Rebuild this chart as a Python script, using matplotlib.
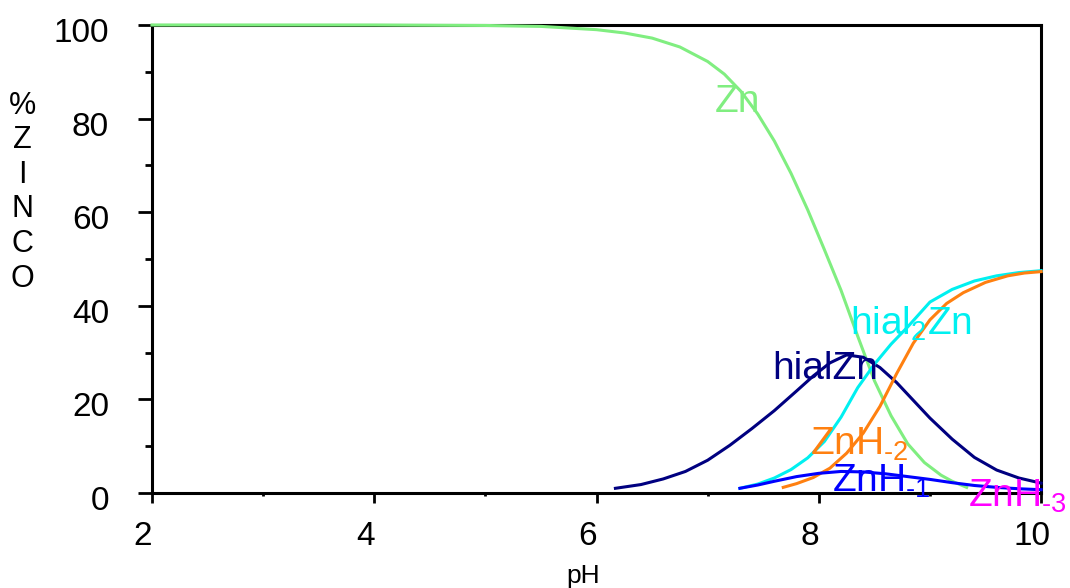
import matplotlib.pyplot as plt
import matplotlib.transforms as mtransforms

plt.rcParams['font.family'] = ['Liberation Sans', 'DejaVu Sans']
plt.rcParams['mathtext.fontset'] = 'custom'
plt.rcParams['mathtext.rm'] = 'Liberation Sans'
plt.rcParams['mathtext.it'] = 'Liberation Sans'

# species distribution (pH, % zinc)
zn_ph = [2, 4, 5, 5.5, 6, 6.25, 6.5, 6.75, 7, 7.15, 7.3, 7.45, 7.6, 7.75, 7.9, 8.05,
         8.2, 8.35, 8.5, 8.65, 8.8, 8.95, 9.1, 9.2, 9.33]
zn_pct = [100, 100, 99.9, 99.7, 99.0, 98.3, 97.2, 95.3, 92.2, 89.5, 85.8, 81, 75.2, 68.3,
          60.5, 52, 43.3, 33.5, 24, 16.5, 10.5, 6.5, 3.8, 2.5, 1.2]

hialzn_ph = [6.17, 6.4, 6.6, 6.8, 7, 7.2, 7.4, 7.6, 7.8, 7.95, 8.1, 8.25, 8.4, 8.55, 8.7,
             8.85, 9, 9.2, 9.4, 9.6, 9.8, 10]
hialzn_pct = [1, 1.8, 3, 4.6, 7, 10.2, 13.8, 17.6, 21.8, 25, 27.8, 29.5, 29, 26.8, 23.6,
              19.8, 16, 11.5, 7.6, 4.9, 3.2, 2.1]

hial2zn_ph = [7.29, 7.45, 7.6, 7.75, 7.9, 8.05, 8.2, 8.35, 8.5, 8.65, 8.8, 9, 9.2, 9.4,
              9.6, 9.8, 10]
hial2zn_pct = [1, 1.9, 3.2, 5, 7.5, 11, 16.2, 22.5, 27.5, 31.8, 35.5, 40.8, 43.5, 45.3,
               46.4, 47.1, 47.5]

znh2_ph = [7.68, 7.8, 7.95, 8.1, 8.25, 8.4, 8.55, 8.7, 8.85, 9, 9.15, 9.3, 9.5, 9.7,
           9.85, 10]
znh2_pct = [1.2, 2, 3.3, 5.3, 8.5, 12.8, 18.5, 25.5, 32, 37, 40.5, 42.8, 45, 46.4, 47,
            47.3]

znh1_ph = [7.29, 7.45, 7.6, 7.8, 8, 8.2, 8.4, 8.6, 8.8, 9, 9.2, 9.4, 9.6, 9.8, 10]
znh1_pct = [1, 1.7, 2.5, 3.5, 4.2, 4.6, 4.5, 4.1, 3.5, 2.9, 2.2, 1.6, 1.2, 0.9, 0.7]

series = [
    (zn_ph, zn_pct, '#80ee80'),
    (hialzn_ph, hialzn_pct, '#000080'),
    (hial2zn_ph, hial2zn_pct, '#00f0f0'),
    (znh2_ph, znh2_pct, '#ff8010'),
    (znh1_ph, znh1_pct, '#0000ff'),
]

fig = plt.figure(figsize=(10.7, 5.88), dpi=100)
ax = fig.add_axes([0.142, 0.1616, 0.831, 0.7959])

for x, y, c in series:
    # drawn over the frame, like the original (Zn runs along the top edge)
    ax.plot(x, y, color=c, lw=2.2, zorder=3, clip_on=False)

# curve labels
lab = dict(fontsize=28, zorder=4)
ax.text(7.27, 83.5, 'Zn', color='#80ee80', ha='center', va='center', **lab)
ax.text(8.06, 26.5, 'hialZn', color='#000080', ha='center', va='center', **lab)
ax.text(8.28, 33.8, 'hial$_2$Zn', color='#00f0f0', ha='left', va='baseline', **lab)
ax.text(7.92, 8.1, 'ZnH$_{‐2}$', color='#ff8010', ha='left', va='baseline', **lab)
ax.text(8.12, 0.2, 'ZnH$_{‐1}$', color='#0000ff', ha='left', va='baseline', **lab)
ax.text(9.34, -3, 'ZnH$_{‐3}$', color='#ff00ff', ha='left', va='baseline',
        clip_on=False, **lab)

ax.set_xlim(2, 10)
ax.set_ylim(0, 100)
ax.set_xticks([2, 4, 6, 8, 10])
ax.set_xticks([3, 5, 7, 9], minor=True)
ax.set_yticks([0, 20, 40, 60, 80, 100])
ax.set_yticks([10, 30, 50, 70, 90], minor=True)

for s in ax.spines.values():
    s.set_linewidth(2.2)

ax.tick_params(axis='y', which='major', length=10, width=2, pad=21, labelsize=24)
ax.tick_params(axis='y', which='minor', length=5, width=2)
ax.tick_params(axis='x', which='major', length=7, width=2, pad=13, labelsize=24)
ax.tick_params(axis='x', which='minor', length=2, width=2)

# tick labels sit a little left / low of their ticks in the original
dx = mtransforms.ScaledTranslation(-0.09, 0, fig.dpi_scale_trans)
dy = mtransforms.ScaledTranslation(0, -0.05, fig.dpi_scale_trans)
for t in ax.get_xticklabels():
    t.set_transform(t.get_transform() + dx)
for t in ax.get_yticklabels():
    t.set_transform(t.get_transform() + dy)

ax.set_xlabel('pH', fontsize=19)
ax.xaxis.set_label_coords(0.485, -0.152)
ax.set_ylabel('%\nZ\nI\nN\nC\nO', fontsize=22, rotation=0, ha='center', va='center',
              linespacing=1.2)
ax.yaxis.set_label_coords(-0.146, 0.643)

fig.savefig('out.png', dpi=100)
